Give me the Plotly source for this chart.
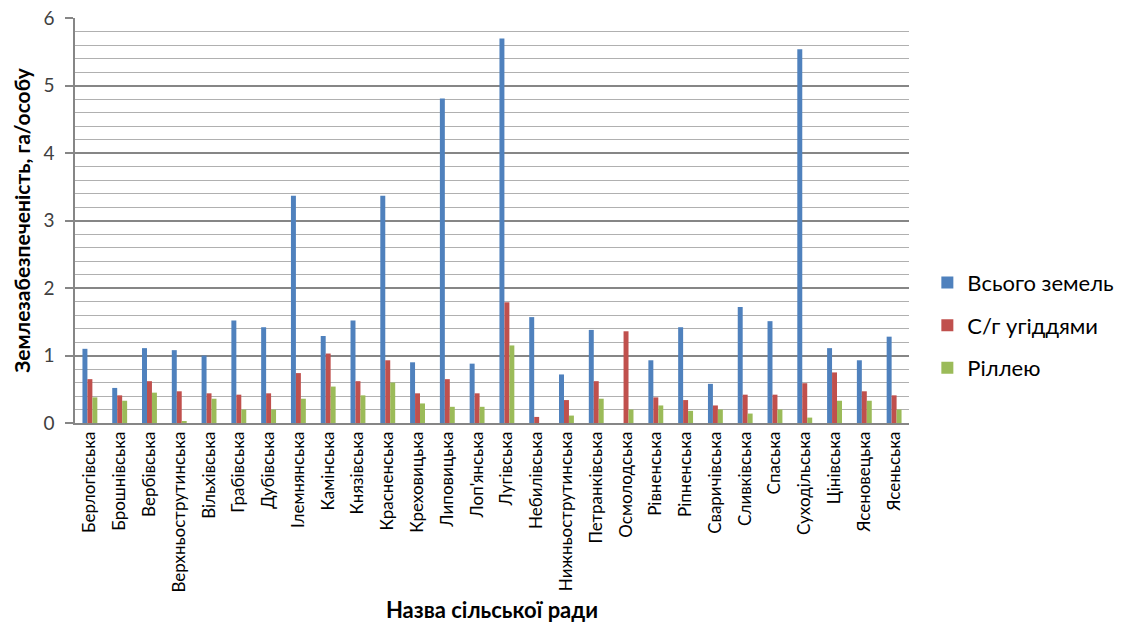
import plotly.graph_objects as go

categories = [
    "Берлогівська", "Брошнівська", "Вербівська", "Верхньострутинська", "Вільхівська",
    "Грабівська", "Дубівська", "Ілемнянська", "Камінська", "Князівська",
    "Красненська", "Креховицька", "Липовицька", "Лоп'янська", "Лугівська",
    "Небилівська", "Нижньострутинська", "Петранківська", "Осмолодська", "Рівненська",
    "Ріпненська", "Сваричівська", "Сливківська", "Спаська", "Суходільська",
    "Цінівська", "Ясеновецька", "Ясеньська",
]

total_land = [1.10, 0.52, 1.11, 1.08, 1.00, 1.52, 1.42, 3.37, 1.29, 1.52,
              3.37, 0.90, 4.81, 0.88, 5.70, 1.57, 0.72, 1.38, 0.00, 0.93,
              1.42, 0.58, 1.72, 1.51, 5.54, 1.11, 0.93, 1.28]
agri_land = [0.65, 0.41, 0.62, 0.47, 0.44, 0.42, 0.44, 0.74, 1.03, 0.62,
             0.93, 0.44, 0.65, 0.44, 1.79, 0.09, 0.34, 0.62, 1.36, 0.38,
             0.34, 0.26, 0.42, 0.42, 0.59, 0.75, 0.47, 0.41]
arable_land = [0.38, 0.33, 0.45, 0.03, 0.36, 0.20, 0.20, 0.36, 0.54, 0.41,
               0.60, 0.29, 0.24, 0.24, 1.15, 0.00, 0.11, 0.36, 0.20, 0.26,
               0.18, 0.20, 0.14, 0.20, 0.08, 0.33, 0.33, 0.20]

series_names = ["Всього земель", "С/г угіддями", "Ріллею"]
colors = ["#4F81BD", "#C0504D", "#9BBB59"]

y_ticks = [0, 1, 2, 3, 4, 5, 6]
y_minor_ticks = [0.2, 0.4, 0.6, 0.8, 1.2, 1.4, 1.6, 1.8, 2.2, 2.4, 2.6, 2.8,
                 3.2, 3.4, 3.6, 3.8, 4.2, 4.4, 4.6, 4.8, 5.2, 5.4, 5.6, 5.8]
y_range = [0, 6.005]

font_family = "Lato, 'Open Sans', sans-serif"

fig = go.Figure()
for name, vals, col in zip(series_names, [total_land, agri_land, arable_land], colors):
    fig.add_trace(go.Bar(
        name=name, x=categories, y=vals,
        marker=dict(color=col, line=dict(width=0)),
        legendgroup=name,
    ))

# invisible helper trace so the overlaid minor-grid axis gets drawn
fig.add_trace(go.Scatter(
    x=categories, y=total_land, yaxis="y2", mode="none",
    showlegend=False, hoverinfo="skip",
))

fig.update_layout(
    template="none",
    width=1121, height=630,
    margin=dict(l=75, r=212, t=18, b=207, autoexpand=False),
    paper_bgcolor="white", plot_bgcolor="white",
    barmode="group", bargap=0.5, bargroupgap=0,
    font=dict(family=font_family, color="#000000"),
    showlegend=True,
    legend=dict(
        x=1.022, y=0.398, xanchor="left", yanchor="top",
        font=dict(size=22, family=font_family, color="#000000"),
        tracegroupgap=11, itemwidth=30,
        bgcolor="rgba(0,0,0,0)", borderwidth=0,
    ),
    yaxis2=dict(
        overlaying="y", side="left", range=y_range,
        tickvals=y_minor_ticks, showticklabels=False, ticks="",
        showgrid=True, gridcolor="#B0B0B0", gridwidth=1.2,
        showline=False, zeroline=False, automargin=False,
    ),
)

fig.update_xaxes(
    automargin=False,
    tickangle=-90,
    tickfont=dict(size=17, family=font_family, color="#000000"),
    showline=True, linecolor="#868686", linewidth=1.5,
    showgrid=False, zeroline=False, ticks="",
    title=dict(text="<b>Назва сільської ради</b>",
               font=dict(size=22, family=font_family, color="#000000"),
               standoff=11),
)

fig.update_layout(yaxis=dict(
    automargin=False,
    range=y_range,
    tickvals=y_ticks,
    ticktext=[str(v) for v in y_ticks],
    tickfont=dict(size=19, family=font_family, color="#404040"),
    ticks="outside", ticklen=8, tickcolor="#868686", tickwidth=1.5,
    showline=True, linecolor="#868686", linewidth=1.5,
    showgrid=True, gridcolor="#868686", gridwidth=1.5,
    zeroline=False,
    ticklabelstandoff=7,
    title=dict(text="<b>Землезабезпеченість, га/особу</b>",
               font=dict(size=21, family=font_family, color="#000000"),
               standoff=7),
))

fig.write_html("out.html", config={"displayModeBar": False},
               post_script="document.body.style.margin='0px';")
